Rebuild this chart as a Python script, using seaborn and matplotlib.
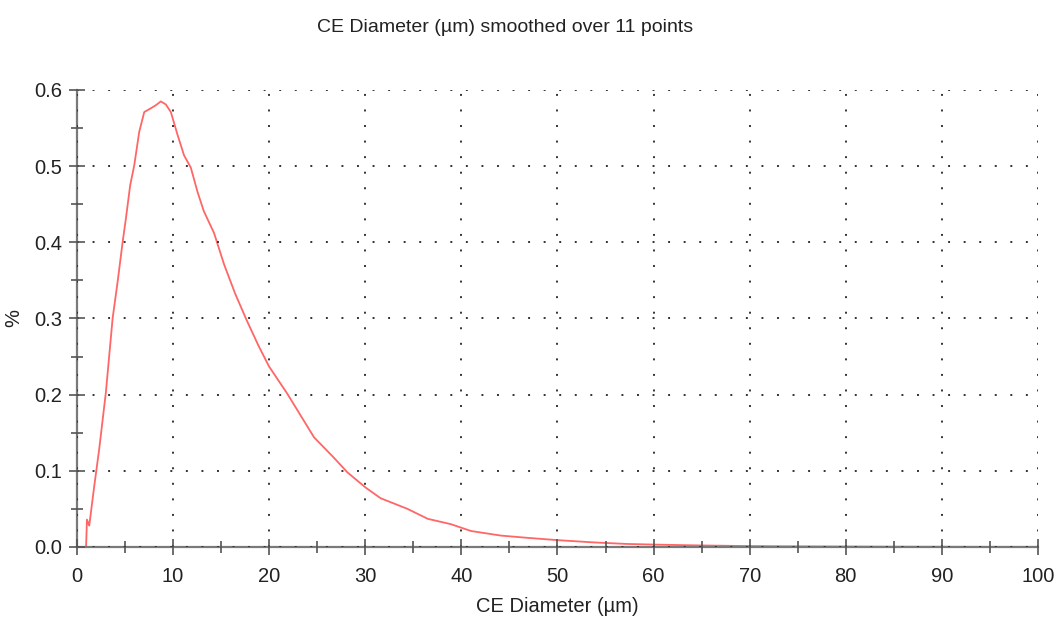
import matplotlib
matplotlib.use("Agg")
import matplotlib.pyplot as plt
import seaborn as sns
import pandas as pd
from matplotlib.ticker import MultipleLocator

diameter_um = [0.0, 0.5, 0.95, 1.04, 1.28, 1.8, 2.32, 3.01, 3.71, 4.23, 4.75, 5.09, 5.54, 5.96,
               6.48, 7.0, 7.69, 8.21, 8.73, 9.25, 9.77, 10.47, 11.15, 11.85, 12.55, 13.2, 14.27,
               15.31, 16.45, 17.65, 18.9, 19.99, 21.9, 23.6, 24.67, 26.75, 28.14, 30.04, 31.6,
               34.4, 36.5, 38.9, 41.0, 44.1, 46.9, 50.0, 53.8, 57.2, 60.6, 65.0, 70.0, 75.0,
               80.0, 85.0, 90.0, 95.0, 100.0]
percent = [0.0, 0.0, 0.0, 0.036, 0.028, 0.080, 0.129, 0.203, 0.300, 0.348, 0.400, 0.431, 0.475,
           0.501, 0.545, 0.571, 0.576, 0.580, 0.585, 0.581, 0.571, 0.541, 0.514, 0.498, 0.466,
           0.441, 0.412, 0.371, 0.333, 0.298, 0.264, 0.237, 0.201, 0.166, 0.144, 0.117, 0.098,
           0.078, 0.064, 0.050, 0.037, 0.030, 0.021, 0.015, 0.012, 0.009, 0.006, 0.004, 0.003,
           0.002, 0.0012, 0.0008, 0.0006, 0.0004, 0.0003, 0.0002, 0.0002]

title_text = "CE Diameter (µm) smoothed over 11 points"
x_label = "CE Diameter (µm)"
y_label = "%"

sns.set_theme(style="white")
plt.rcParams['font.family'] = ['Liberation Sans', 'DejaVu Sans']

df = pd.DataFrame({"d": diameter_um, "p": percent})

fig = plt.figure(figsize=(10.57, 6.18), dpi=100)
ax = fig.add_axes([0.0728, 0.1149, 0.9092, 0.7395])
sns.lineplot(data=df, x="d", y="p", ax=ax, color="#ff6666", linewidth=1.3)

ax.set_xlim(0, 100)
ax.set_ylim(0, 0.6)
ax.xaxis.set_major_locator(MultipleLocator(10))
ax.xaxis.set_minor_locator(MultipleLocator(5))
ax.yaxis.set_major_locator(MultipleLocator(0.1))
ax.yaxis.set_minor_locator(MultipleLocator(0.05))
ax.yaxis.set_major_formatter(matplotlib.ticker.FormatStrFormatter('%.1f'))

for s in ["top", "right"]:
    ax.spines[s].set_visible(False)
for s in ["left", "bottom"]:
    ax.spines[s].set_color("#7a7a7a")
    ax.spines[s].set_linewidth(1.6)

ax.tick_params(which="both", direction="inout", color="#555555", width=1.2,
               bottom=True, left=True)
ax.tick_params(which="major", length=11, labelsize=14.5, labelcolor="#222222")
ax.tick_params(axis="x", which="major", pad=9)
ax.tick_params(axis="y", which="major", pad=5)
ax.tick_params(which="minor", length=9)

ax.grid(True, which="major", color="#333333", linestyle=(0, (1, 7)), linewidth=1.4)
ax.set_axisbelow(False)

ax.set_xlabel(x_label, fontsize=14.5, color="#222222", labelpad=8)
ax.set_ylabel(y_label, fontsize=14.5, color="#222222")
ax.yaxis.set_label_coords(-0.056, 0.5)
fig.suptitle(title_text, fontsize=14, color="#222222", x=0.478, y=0.97)

fig.savefig("out.png", dpi=100)
